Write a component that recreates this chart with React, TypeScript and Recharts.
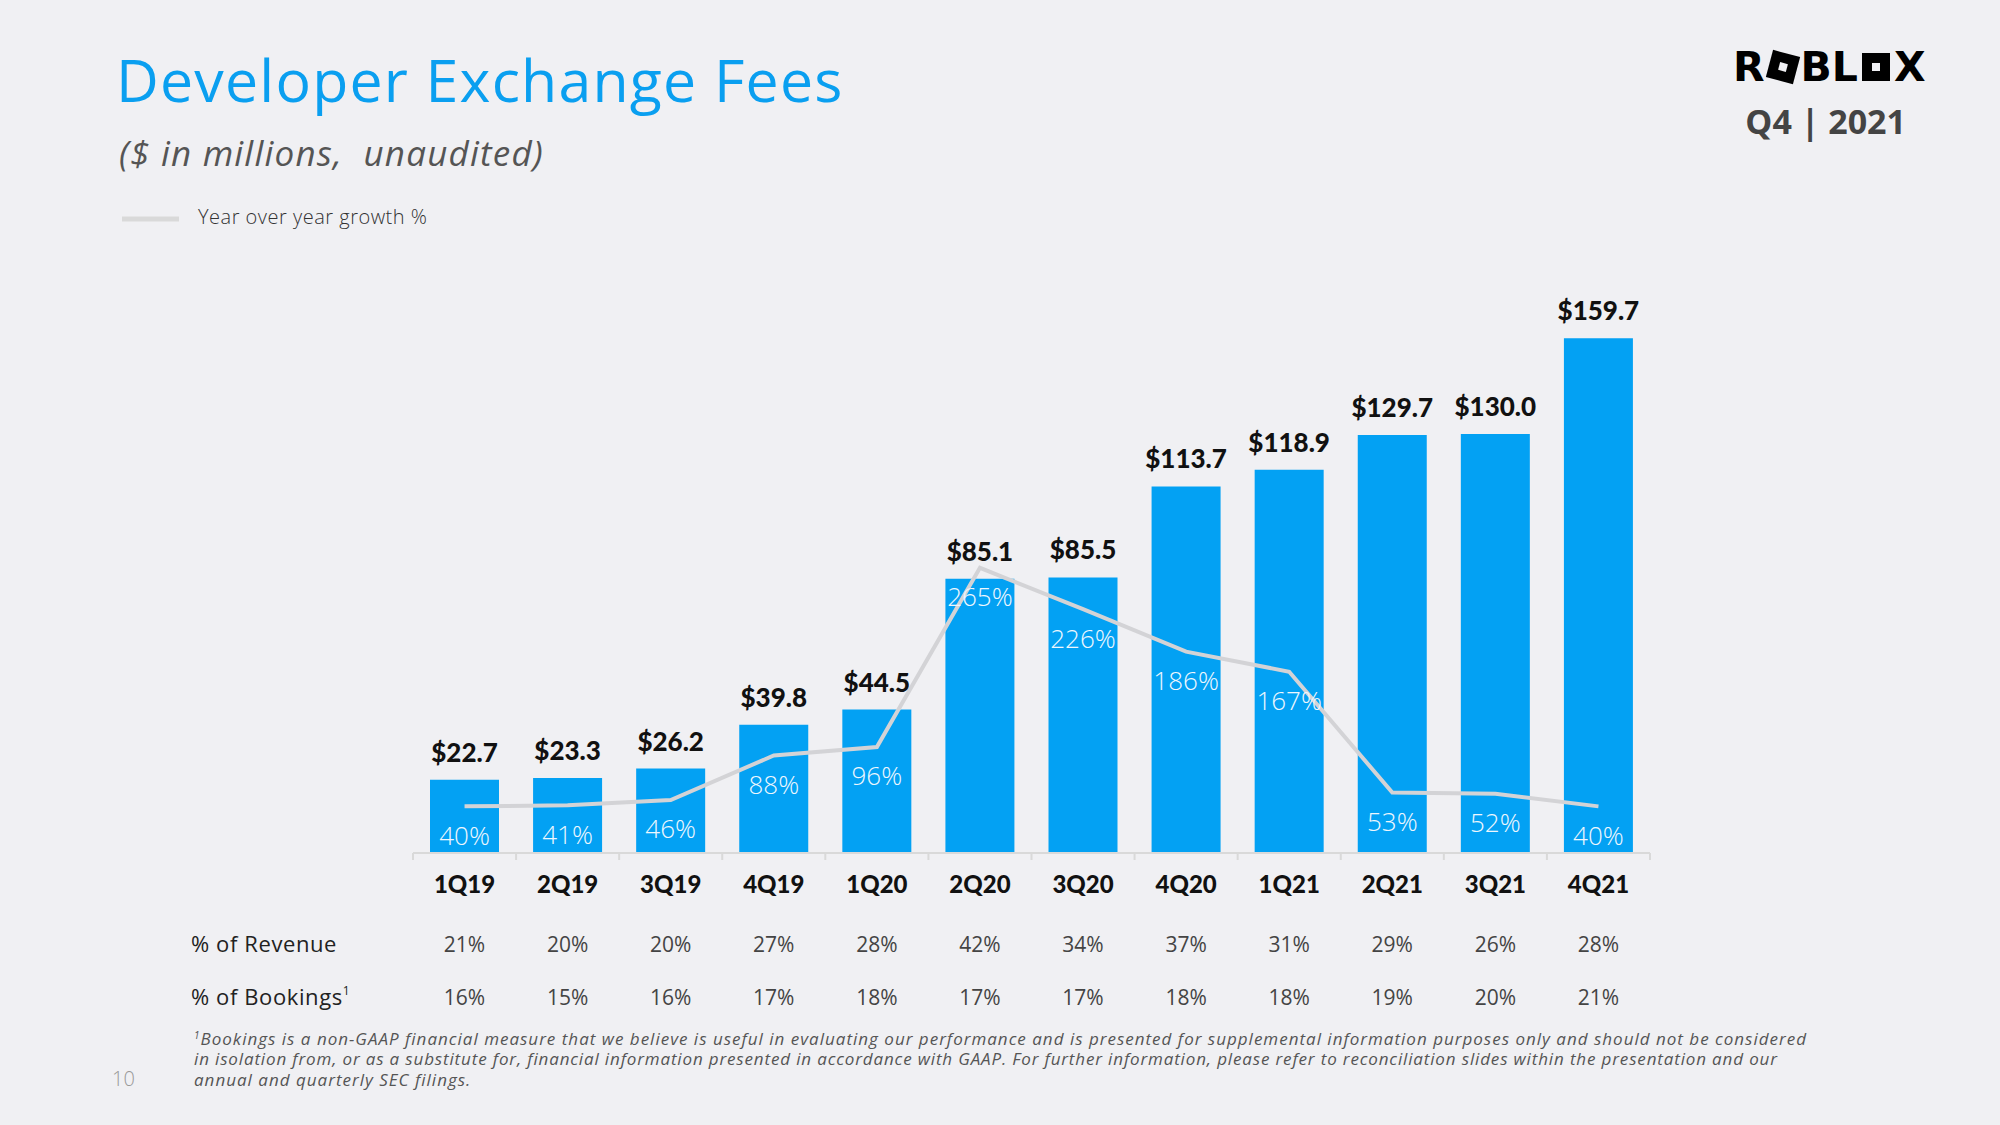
import {
  ComposedChart,
  Bar,
  Line,
  XAxis,
  YAxis,
  LabelList,
} from "recharts";

const quarters = ["1Q19", "2Q19", "3Q19", "4Q19", "1Q20", "2Q20", "3Q20", "4Q20", "1Q21", "2Q21", "3Q21", "4Q21"];
const fees = [22.7, 23.3, 26.2, 39.8, 44.5, 85.1, 85.5, 113.7, 118.9, 129.7, 130.0, 159.7];
const yoyGrowth = [40, 41, 46, 88, 96, 265, 226, 186, 167, 53, 52, 40];
const pctRevenue = [21, 20, 20, 27, 28, 42, 34, 37, 31, 29, 26, 28];
const pctBookings = [16, 15, 16, 17, 18, 17, 17, 18, 18, 19, 20, 21];

const data = quarters.map((q, i) => ({
  quarter: q,
  fees: fees[i],
  growth: yoyGrowth[i],
}));

const BLUE = "#03a1f3";
const GREY_LINE = "#d3d3d6";
const BG = "#f0f0f3";

// eje x: trimestre + filas de % de ingresos y bookings
const QuarterTick = (props: any) => {
  const { x, y, payload, index } = props;
  const half = payload?.offset ?? 51.5;
  const last = index === quarters.length - 1;
  return (
    <g>
      <line x1={x - half} x2={x - half} y1={y} y2={y + 7} stroke="#d9d9d9" strokeWidth={2} />
      {last && (
        <line x1={x + half} x2={x + half} y1={y} y2={y + 7} stroke="#d9d9d9" strokeWidth={2} />
      )}
      <text
        x={x}
        y={y + 40}
        textAnchor="middle"
        fontFamily="Lato"
        fontWeight={900}
        fontSize={24}
        fill="#111"
      >
        {payload.value}
      </text>
      <text
        x={x}
        y={y + 99}
        textAnchor="middle"
        fontFamily="Open Sans"
        fontSize={21}
        fill="#444"
      >
        {pctRevenue[index]}%
      </text>
      <text
        x={x}
        y={y + 152}
        textAnchor="middle"
        fontFamily="Open Sans"
        fontSize={21}
        fill="#444"
      >
        {pctBookings[index]}%
      </text>
    </g>
  );
};

const LogoO = ({ tilt }: { tilt: number }) => (
  <span
    style={{
      position: "relative",
      display: "inline-block",
      width: 28,
      height: 28,
      margin: "0 4px",
      background: "#000",
      color: "transparent",
      fontSize: 10,
      lineHeight: "28px",
      overflow: "hidden",
      transform: `rotate(${tilt}deg)`,
    }}
  >
    O
    <span
      style={{
        position: "absolute",
        left: 10,
        top: 10,
        width: 8,
        height: 8,
        background: BG,
      }}
    />
  </span>
);

export default function App() {
  return (
    <div
      style={{
        position: "absolute",
        left: 0,
        top: 0,
        width: 2000,
        height: 1125,
        background: BG,
        overflow: "hidden",
      }}
    >
      {/* Textos de la diapositiva */}
      <svg
        width={2000}
        height={1125}
        style={{ position: "absolute", left: 0, top: 0 }}
      >
        <text
          x={116}
          y={102}
          fontFamily="Open Sans"
          fontSize={59}
          letterSpacing={1.2}
          fill="#0a9ff0"
        >
          Developer Exchange Fees
        </text>
        <text
          x={119}
          y={166}
          xmlSpace="preserve"
          fontFamily="Open Sans"
          fontStyle="italic"
          fontSize={35}
          letterSpacing={1.2}
          fill="#555"
        >
          {"($ in millions,  unaudited)"}
        </text>
        <line x1={122} x2={179} y1={219} y2={219} stroke="#d9d9d9" strokeWidth={5} />
        <text
          x={198}
          y={224}
          fontFamily="Open Sans"
          fontWeight={300}
          fontSize={20}
          letterSpacing={0.5}
          fill="#333"
        >
          Year over year growth %
        </text>
        <text
          x={1906}
          y={134}
          textAnchor="end"
          fontFamily="Open Sans"
          fontWeight={700}
          fontSize={34}
          fill="#444"
        >
          Q4 | 2021
        </text>
        <text x={191} y={952} fontFamily="Open Sans" fontSize={22} letterSpacing={0.6} fill="#222">
          % of Revenue
        </text>
        <text x={191} y={1005} fontFamily="Open Sans" fontSize={22} letterSpacing={0.6} fill="#222">
          % of Bookings
          <tspan fontSize={12} dy={-10}>1</tspan>
        </text>
        <text x={112} y={1086} fontFamily="Open Sans" fontWeight={300} fontSize={20} fill="#999">
          10
        </text>
        <g
          fontFamily="Open Sans"
          fontStyle="italic"
          fontSize={17}
          letterSpacing={1}
          fill="#555"
        >
          <text x={194} y={1045}>
            <tspan fontSize={10} dy={-6}>1</tspan>
            <tspan dy={6}>
              Bookings is a non-GAAP financial measure that we believe is useful in evaluating our performance and is presented for supplemental information purposes only and should not be considered
            </tspan>
          </text>
          <text x={194} y={1065} letterSpacing={0.85}>
            in isolation from, or as a substitute for, financial information presented in accordance with GAAP. For further information, please refer to reconciliation slides within the presentation and our
          </text>
          <text x={194} y={1086}>annual and quarterly SEC filings.</text>
        </g>
      </svg>

      {/* Logo */}
      <div
        style={{
          position: "absolute",
          left: 1733,
          top: 50,
          height: 34,
          display: "flex",
          alignItems: "center",
          fontFamily: "DejaVu Sans",
          fontWeight: 900,
          fontSize: 41,
          lineHeight: "34px",
          color: "#000",
        }}
      >
        <span>R</span>
        <LogoO tilt={15} />
        <span>BL</span>
        <LogoO tilt={0} />
        <span>X</span>
      </div>

      {/* Gráfico */}
      <div style={{ position: "absolute", left: 0, top: 0 }}>
        <ComposedChart
          width={2000}
          height={1125}
          data={data}
          margin={{ top: 305, right: 350, bottom: 92, left: 413 }}
        >
          <XAxis
            dataKey="quarter"
            axisLine={{ stroke: "#d9d9d9", strokeWidth: 2 }}
            tickLine={false}
            tickSize={0}
            tickMargin={0}
            interval={0}
            height={180}
            tick={<QuarterTick />}
          />
          <YAxis yAxisId="fees" hide domain={[0, 170]} />
          <YAxis yAxisId="growth" hide orientation="right" domain={[-4, 513]} />
          <Bar
            yAxisId="fees"
            dataKey="fees"
            fill={BLUE}
            barSize={69}
            isAnimationActive={false}
          >
            <LabelList
              dataKey="fees"
              position="top"
              offset={18}
              formatter={(v: any) => `$${Number(v).toFixed(1)}`}
              fill="#111"
              fontFamily="Lato"
              fontWeight={900}
              fontSize={26}
            />
          </Bar>
          <Line
            yAxisId="growth"
            dataKey="growth"
            type="linear"
            stroke={GREY_LINE}
            strokeWidth={4}
            dot={false}
            isAnimationActive={false}
          >
            <LabelList
              dataKey="growth"
              position="bottom"
              offset={20}
              formatter={(v: any) => `${v}%`}
              fill="#eef7fe"
              fontFamily="Open Sans"
              fontWeight={300}
              fontSize={26}
            />
          </Line>
        </ComposedChart>
      </div>
    </div>
  );
}
